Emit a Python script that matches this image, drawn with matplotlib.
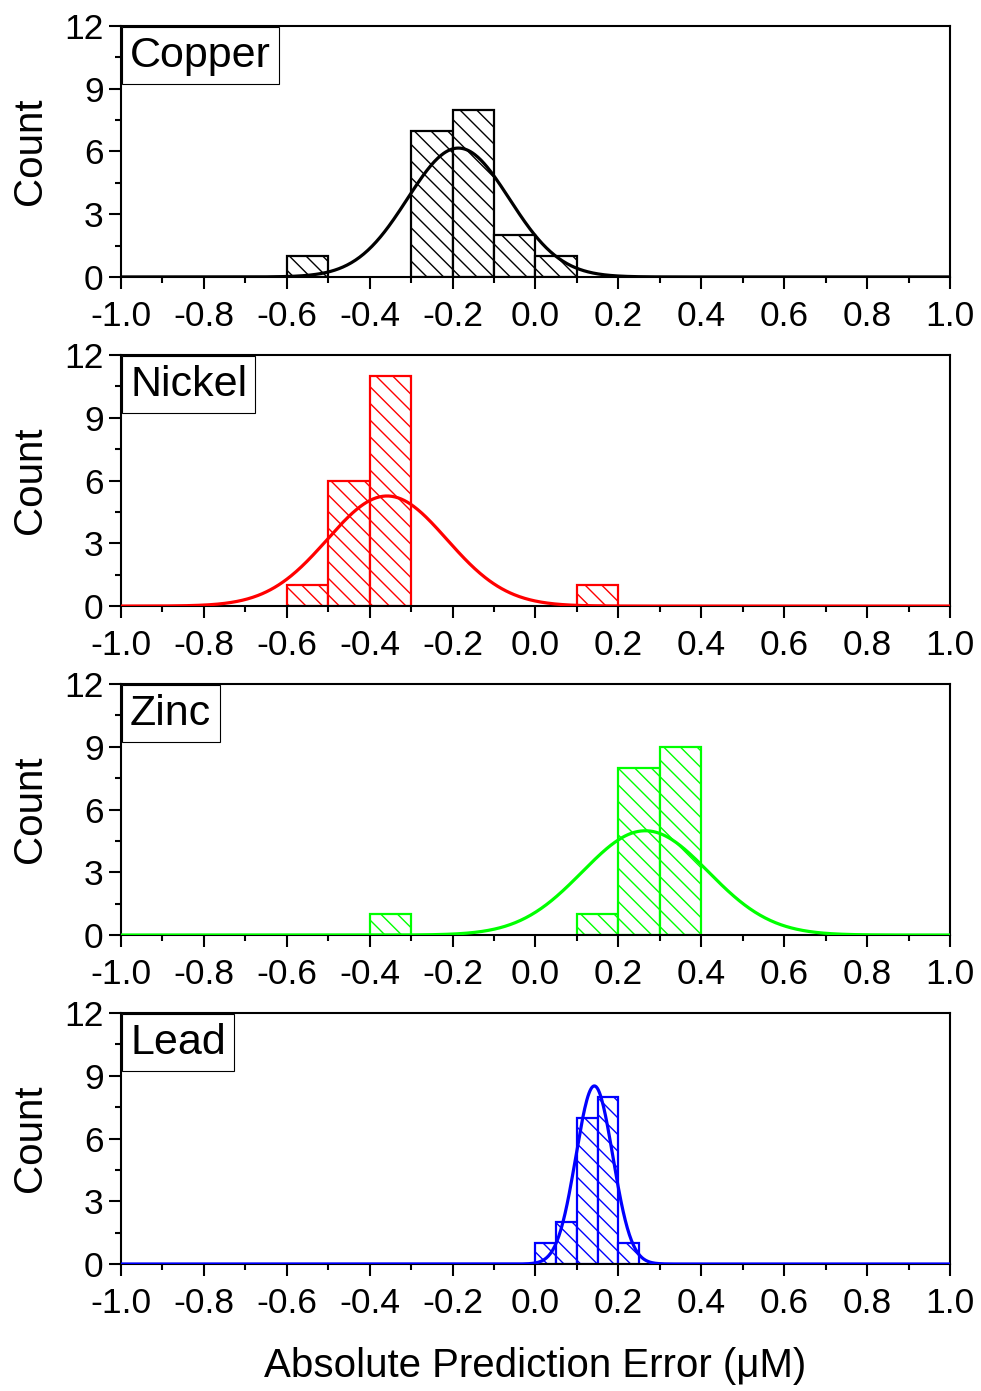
import matplotlib.pyplot as plt
import numpy as np

plt.rcParams['font.family'] = ['Liberation Sans', 'DejaVu Sans']

metals = ['Copper', 'Nickel', 'Zinc', 'Lead']
colors = ['#000000', '#ff0000', '#00ff00', '#0000ff']

# histogram bins (left edges) and counts
copper_left = [-0.6, -0.3, -0.2, -0.1, 0.0]
copper_count = [1, 7, 8, 2, 1]
nickel_left = [-0.6, -0.5, -0.4, 0.1]
nickel_count = [1, 6, 11, 1]
zinc_left = [-0.4, 0.1, 0.2, 0.3]
zinc_count = [1, 1, 8, 9]
lead_left = [0.0, 0.05, 0.10, 0.15, 0.20]
lead_count = [1, 2, 7, 8, 1]
bin_width = [0.1, 0.1, 0.1, 0.05]

# normal fit: mean, sd
fit_mean = [-0.186, -0.358, 0.265, 0.142]
fit_sd = [0.123, 0.144, 0.152, 0.0445]

xtick_labels = ['-1.0', '-0.8', '-0.6', '-0.4', '-0.2', '0.0', '0.2', '0.4', '0.6', '0.8', '1.0']

lefts = [copper_left, nickel_left, zinc_left, lead_left]
counts = [copper_count, nickel_count, zinc_count, lead_count]

fig = plt.figure(figsize=(9.81, 13.91), dpi=100)
bottoms = [0.8009, 0.5643, 0.3278, 0.0913]
h = 0.1804

xs = np.linspace(-1, 1, 800)
for i in range(4):
    ax = fig.add_axes([0.1233, bottoms[i], 0.8451, h])
    c = colors[i]
    ax.bar(lefts[i], counts[i], width=bin_width[i], align='edge',
           facecolor='white', edgecolor=c, hatch='\\\\', linewidth=1.6, zorder=2)
    total = sum(counts[i]) * bin_width[i]
    ys = total / (fit_sd[i] * np.sqrt(2 * np.pi)) * np.exp(-0.5 * ((xs - fit_mean[i]) / fit_sd[i]) ** 2)
    ax.plot(xs, ys, color=c, lw=2.3, zorder=3)

    ax.set_xlim(-1, 1)
    ax.set_ylim(0, 12)
    ax.set_xticks(np.linspace(-1, 1, 11))
    ax.set_xticks(np.linspace(-0.9, 0.9, 10), minor=True)
    ax.set_xticklabels(xtick_labels)
    ax.set_yticks([0, 3, 6, 9, 12])
    ax.set_yticks([1.5, 4.5, 7.5, 10.5], minor=True)
    ax.tick_params(which='both', direction='out', width=1.5, labelsize=25.5, top=False, right=False)
    ax.tick_params(which='major', length=8.5)
    ax.tick_params(which='minor', length=4.3)
    ax.tick_params(axis='x', pad=8)
    ax.tick_params(axis='y', pad=4)
    for s in ax.spines.values():
        s.set_linewidth(1.5)
    ax.set_ylabel('Count', fontsize=29, labelpad=11)
    ax.text(0.011, 0.962, metals[i], transform=ax.transAxes, ha='left', va='top',
            fontsize=31, zorder=5,
            bbox=dict(boxstyle='square,pad=0.19', facecolor='white', edgecolor='black', lw=0.8))

fig.text(0.545, 0.018, 'Absolute Prediction Error (\u03bcM)', ha='center', va='center', fontsize=29)

fig.savefig('out.png', dpi=100)
